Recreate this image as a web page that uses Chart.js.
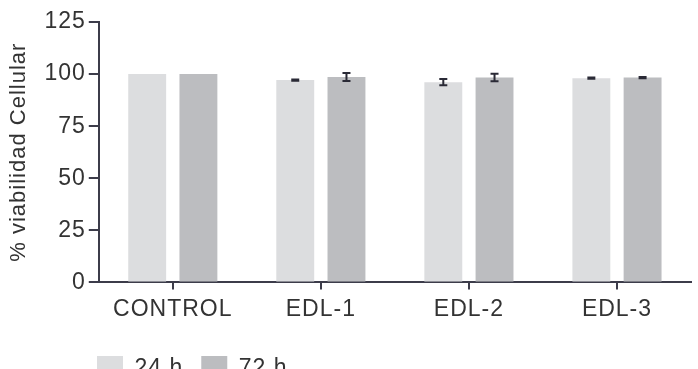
<!DOCTYPE html>
<html>
<head>
    <meta charset="utf-8">
    <title>Viabilidad celular</title>
    <script src="https://cdn.jsdelivr.net/npm/chart.js"></script>
    <style>
        * {
            margin: 0;
            padding: 0;
        }
        body {
            background: #fff;
            overflow: hidden;
        }
        .chartBox {
            width: 698px;
            height: 369px;
        }
    </style>
</head>
<body>
    <div class="chartBox">
        <canvas id="chart"></canvas>
    </div>
<script>
    // data
    const categories = ['CONTROL', 'EDL-1', 'EDL-2', 'EDL-3'];
    const viab24 = [100, 97.1, 96.1, 98.0];
    const viab72 = [100, 98.6, 98.4, 98.3];
    const err24 = [0, 0.3, 1.5, 0.3];
    const err72 = [0, 1.9, 1.8, 0.3];
    const seriesLabels = ['24 h', '72 h'];
    const yMin = 0, yMax = 125, yStep = 25;

    const axisColor = '#3c3c4a';
    const textColor = '#333333';

    Chart.defaults.font.family = "'Liberation Sans', Arial, sans-serif";
    Chart.defaults.color = textColor;

    // spaced out lettering like the original
    const spacing = {
        id: 'spacing',
        beforeUpdate(chart) { chart.ctx.letterSpacing = '1px'; },
        beforeDraw(chart) { chart.ctx.letterSpacing = '1px'; }
    };

    // legend sits at the bottom left, under the y axis, partly cut off
    const legendPos = {
        id: 'legendPos',
        afterLayout(chart) {
            const lg = chart.legend;
            lg.left = 79;
            lg.top = 338;
        }
    };

    // error bars drawn with the y scale
    const errorBars = {
        id: 'errorBars',
        afterDatasetsDraw(chart) {
            const ctx = chart.ctx;
            const y = chart.scales.y;
            [err24, err72].forEach((errs, i) => {
                const meta = chart.getDatasetMeta(i);
                const vals = chart.data.datasets[i].data;
                meta.data.forEach((bar, j) => {
                    if (!errs[j]) return;
                    const top = y.getPixelForValue(vals[j] + errs[j]);
                    const bot = y.getPixelForValue(vals[j] - errs[j]);
                    ctx.save();
                    ctx.strokeStyle = '#2a2a36';
                    ctx.lineWidth = 2;
                    ctx.beginPath();
                    ctx.moveTo(bar.x, top);
                    ctx.lineTo(bar.x, bot);
                    ctx.moveTo(bar.x - 4, top);
                    ctx.lineTo(bar.x + 4, top);
                    ctx.moveTo(bar.x - 4, bot);
                    ctx.lineTo(bar.x + 4, bot);
                    ctx.stroke();
                    ctx.restore();
                });
            });
        }
    };

    const data = {
        labels: categories,
        datasets: [{
            label: seriesLabels[0],
            data: viab24,
            backgroundColor: '#dcdddf',
            barPercentage: 0.74,
            categoryPercentage: 0.692
        }, {
            label: seriesLabels[1],
            data: viab72,
            backgroundColor: '#bcbdc0',
            barPercentage: 0.74,
            categoryPercentage: 0.692
        }]
    };

    const config = {
        type: 'bar',
        data,
        options: {
            responsive: true,
            maintainAspectRatio: false,
            animation: false,
            layout: {
                padding: { left: 0, right: 7, top: 22, bottom: -14 }
            },
            plugins: {
                tooltip: { enabled: false },
                legend: {
                    position: 'bottom',
                    align: 'start',
                    labels: {
                        boxWidth: 26,
                        boxHeight: 26,
                        padding: 18,
                        color: textColor,
                        font: { size: 23 }
                    }
                }
            },
            scales: {
                x: {
                    offset: true,
                    grid: {
                        offset: false,
                        drawOnChartArea: false,
                        drawTicks: true,
                        tickLength: 7,
                        color: axisColor,
                        lineWidth: 2
                    },
                    border: { display: true, color: axisColor, width: 2 },
                    ticks: {
                        color: textColor,
                        padding: 6,
                        font: { size: 23 },
                        maxRotation: 0
                    }
                },
                y: {
                    min: yMin,
                    max: yMax,
                    ticks: {
                        stepSize: yStep,
                        color: textColor,
                        padding: 3,
                        font: { size: 23 }
                    },
                    grid: {
                        drawOnChartArea: false,
                        drawTicks: true,
                        tickLength: 10,
                        color: axisColor,
                        lineWidth: 2
                    },
                    border: { display: true, color: axisColor, width: 2 },
                    title: {
                        display: true,
                        text: '% viabilidad Cellular',
                        color: textColor,
                        font: { size: 22 },
                        padding: { top: 6, bottom: 9 }
                    }
                }
            }
        },
        plugins: [spacing, legendPos, errorBars]
    };

    const chart = new Chart(document.getElementById('chart'), config);
</script>
</body>
</html>
